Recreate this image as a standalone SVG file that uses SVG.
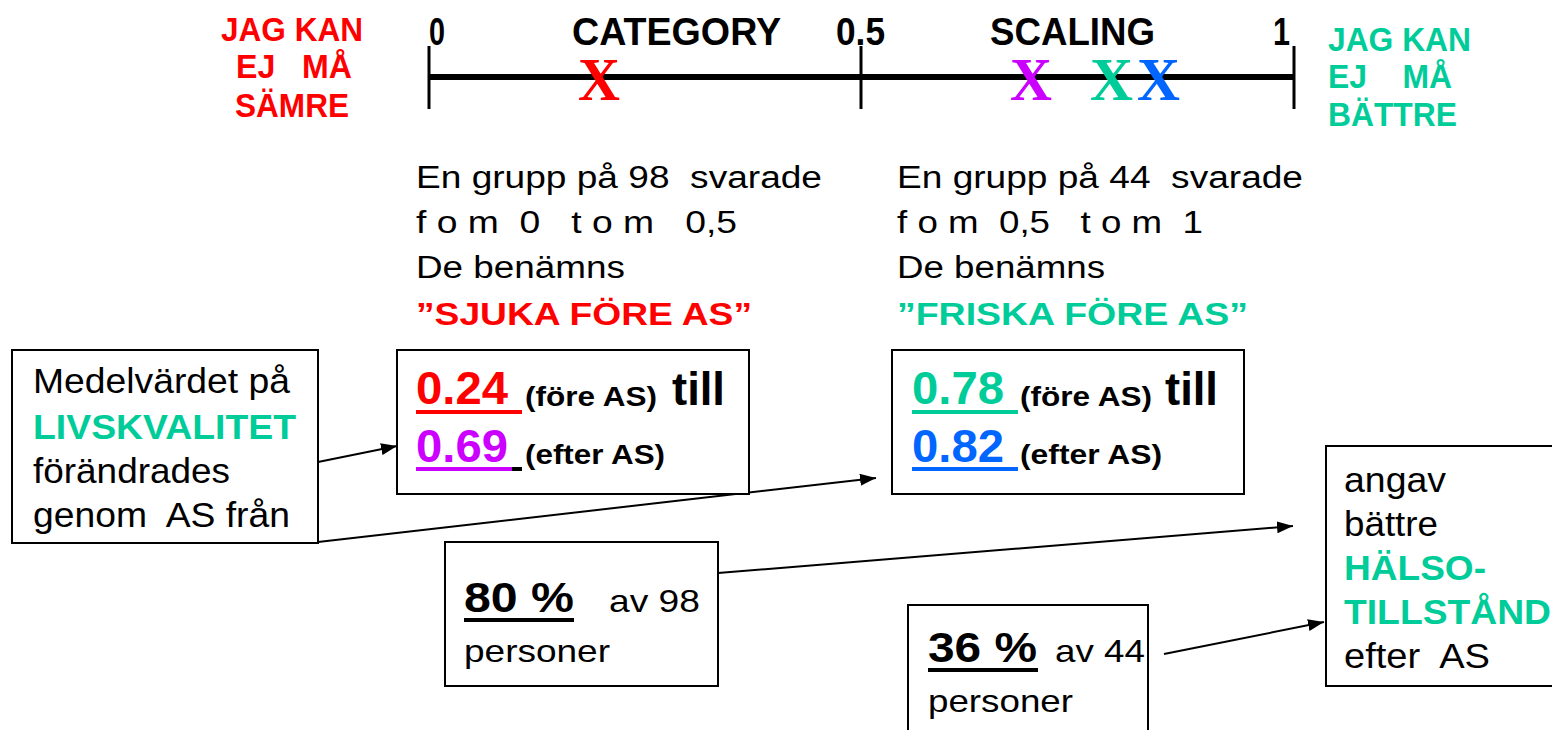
<svg xmlns="http://www.w3.org/2000/svg" width="1552" height="730" viewBox="0 0 1552 730">
<style>
  text { font-family: "Liberation Sans", Arial, sans-serif; }
  .b { font-weight: bold; }
  .x { font-family: "Liberation Serif", "Times New Roman", serif; font-weight: bold; font-size: 62px; }
  .red { fill: #FF0000; }
  .grn { fill: #00CC99; }
  .pur { fill: #CC00FF; }
  .blu { fill: #0066FF; }
  .box { fill: #FFFFFF; stroke: #000000; stroke-width: 2; }
  .con { stroke: #000000; stroke-width: 2; fill: none; }
  .tick { stroke: #000000; stroke-width: 3; }
</style>
<defs>
  <marker id="arr" markerWidth="16" markerHeight="12" refX="16" refY="6" orient="auto" markerUnits="userSpaceOnUse">
    <path d="M0,0 L16,6 L0,12 Z" fill="#000000"/>
  </marker>
</defs>
<rect width="1552" height="730" fill="#FFFFFF"/>

<g id="scale">
  <line x1="429" y1="77" x2="1294" y2="77" stroke="#000000" stroke-width="6"/>
  <line class="tick" x1="429" y1="46" x2="429" y2="109"/>
  <line class="tick" x1="861" y1="46" x2="861" y2="109"/>
  <line class="tick" x1="1294" y1="46" x2="1294" y2="109"/>
  <text class="b" x="429" y="45" font-size="38" textLength="16" lengthAdjust="spacingAndGlyphs">0</text>
  <text class="b" x="572" y="45" font-size="38" textLength="209" lengthAdjust="spacingAndGlyphs">CATEGORY</text>
  <text class="b" x="836" y="45" font-size="38" textLength="49" lengthAdjust="spacingAndGlyphs">0.5</text>
  <text class="b" x="990" y="45" font-size="38" textLength="165" lengthAdjust="spacingAndGlyphs">SCALING</text>
  <text class="b" x="1273" y="45" font-size="38" textLength="17" lengthAdjust="spacingAndGlyphs">1</text>
  <text class="x red" x="578" y="100" textLength="42" lengthAdjust="spacingAndGlyphs">X</text>
  <text class="x pur" x="1010" y="100" textLength="42" lengthAdjust="spacingAndGlyphs">X</text>
  <text class="x grn" x="1090" y="100" textLength="43" lengthAdjust="spacingAndGlyphs">X</text>
  <text class="x blu" x="1137" y="100" textLength="43" lengthAdjust="spacingAndGlyphs">X</text>
</g>

<g id="worse-label">
  <text class="b red" x="221" y="41" font-size="33" textLength="142" lengthAdjust="spacingAndGlyphs">JAG KAN</text>
  <text class="b red" x="236" y="78" font-size="33" textLength="116" lengthAdjust="spacingAndGlyphs" xml:space="preserve">EJ   MÅ</text>
  <text class="b red" x="235" y="117" font-size="33" textLength="114" lengthAdjust="spacingAndGlyphs">SÄMRE</text>
</g>

<g id="better-label">
  <text class="b grn" x="1328" y="51" font-size="33" textLength="143" lengthAdjust="spacingAndGlyphs">JAG KAN</text>
  <text class="b grn" x="1328" y="88" font-size="33" textLength="124" lengthAdjust="spacingAndGlyphs" xml:space="preserve">EJ    MÅ</text>
  <text class="b grn" x="1328" y="126" font-size="33" textLength="129" lengthAdjust="spacingAndGlyphs">BÄTTRE</text>
</g>

<g id="group-sick">
  <text x="416" y="188" font-size="31" textLength="406" lengthAdjust="spacingAndGlyphs" xml:space="preserve">En grupp på 98  svarade</text>
  <text x="416" y="233" font-size="31" textLength="321" lengthAdjust="spacingAndGlyphs" xml:space="preserve">f o m  0   t o m   0,5</text>
  <text x="416" y="278" font-size="31" textLength="209" lengthAdjust="spacingAndGlyphs">De benämns</text>
  <text class="b red" x="416" y="325" font-size="32" textLength="336" lengthAdjust="spacingAndGlyphs">”SJUKA FÖRE AS”</text>
</g>

<g id="group-healthy">
  <text x="897" y="188" font-size="31" textLength="406" lengthAdjust="spacingAndGlyphs" xml:space="preserve">En grupp på 44  svarade</text>
  <text x="897" y="233" font-size="31" textLength="306" lengthAdjust="spacingAndGlyphs" xml:space="preserve">f o m  0,5   t o m  1</text>
  <text x="897" y="278" font-size="31" textLength="208" lengthAdjust="spacingAndGlyphs">De benämns</text>
  <text class="b grn" x="897" y="325" font-size="32" textLength="351" lengthAdjust="spacingAndGlyphs">”FRISKA FÖRE AS”</text>
</g>

<g id="connectors">
  <line class="con" x1="318" y1="462" x2="397" y2="446" marker-end="url(#arr)"/>
  <line class="con" x1="318" y1="542" x2="876" y2="478" marker-end="url(#arr)"/>
  <line class="con" x1="718" y1="573" x2="1293" y2="526" marker-end="url(#arr)"/>
  <line class="con" x1="1164" y1="654" x2="1324" y2="622" marker-end="url(#arr)"/>
</g>

<g id="box-mean">
  <rect class="box" x="12" y="350" width="306" height="193"/>
  <text x="33" y="393" font-size="35" textLength="257" lengthAdjust="spacingAndGlyphs">Medelvärdet på</text>
  <text class="b grn" x="33" y="439" font-size="35" textLength="263" lengthAdjust="spacingAndGlyphs">LIVSKVALITET</text>
  <text x="33" y="483" font-size="35" textLength="197" lengthAdjust="spacingAndGlyphs">förändrades</text>
  <text x="33" y="527" font-size="35" textLength="257" lengthAdjust="spacingAndGlyphs" xml:space="preserve">genom  AS från</text>
</g>

<g id="box-sick-values">
  <rect class="box" x="397" y="350" width="352" height="144"/>
  <text class="b red" x="416" y="404" font-size="46" textLength="92" lengthAdjust="spacingAndGlyphs">0.24</text>
  <rect x="416" y="410" width="106" height="4" fill="#FF0000"/>
  <text class="b" x="525" y="406" font-size="27" textLength="132" lengthAdjust="spacingAndGlyphs">(före AS)</text>
  <text class="b" x="672" y="405" font-size="46" textLength="53" lengthAdjust="spacingAndGlyphs">till</text>
  <text class="b pur" x="416" y="462" font-size="46" textLength="92" lengthAdjust="spacingAndGlyphs">0.69</text>
  <rect x="416" y="467" width="96" height="4" fill="#CC00FF"/>
  <rect x="512" y="467" width="10" height="4" fill="#000000"/>
  <text class="b" x="525" y="464" font-size="27" textLength="140" lengthAdjust="spacingAndGlyphs">(efter AS)</text>
</g>

<g id="box-healthy-values">
  <rect class="box" x="892" y="350" width="352" height="144"/>
  <text class="b grn" x="912" y="404" font-size="46" textLength="92" lengthAdjust="spacingAndGlyphs">0.78</text>
  <rect x="912" y="410" width="106" height="4" fill="#00CC99"/>
  <text class="b" x="1020" y="406" font-size="27" textLength="132" lengthAdjust="spacingAndGlyphs">(före AS)</text>
  <text class="b" x="1165" y="405" font-size="46" textLength="53" lengthAdjust="spacingAndGlyphs">till</text>
  <text class="b blu" x="912" y="462" font-size="46" textLength="92" lengthAdjust="spacingAndGlyphs">0.82</text>
  <rect x="912" y="467" width="106" height="4" fill="#0066FF"/>
  <text class="b" x="1020" y="464" font-size="27" textLength="142" lengthAdjust="spacingAndGlyphs">(efter AS)</text>
</g>

<g id="box-80">
  <rect class="box" x="445" y="542" width="273" height="144"/>
  <text class="b" x="464" y="612" font-size="42" textLength="110" lengthAdjust="spacingAndGlyphs">80 %</text>
  <rect x="464" y="618" width="110" height="4" fill="#000000"/>
  <text x="609" y="612" font-size="32" textLength="91" lengthAdjust="spacingAndGlyphs">av 98</text>
  <text x="464" y="662" font-size="32" textLength="146" lengthAdjust="spacingAndGlyphs">personer</text>
</g>

<g id="box-36">
  <rect class="box" x="908" y="605" width="240" height="140"/>
  <text class="b" x="928" y="662" font-size="42" textLength="109" lengthAdjust="spacingAndGlyphs">36 %</text>
  <rect x="928" y="668" width="110" height="4" fill="#000000"/>
  <text x="1055" y="662" font-size="32" textLength="90" lengthAdjust="spacingAndGlyphs">av 44</text>
  <text x="928" y="712" font-size="32" textLength="145" lengthAdjust="spacingAndGlyphs">personer</text>
</g>

<g id="box-health">
  <rect class="box" x="1326" y="446" width="240" height="240"/>
  <text x="1344" y="492" font-size="35" textLength="102" lengthAdjust="spacingAndGlyphs">angav</text>
  <text x="1344" y="536" font-size="35" textLength="94" lengthAdjust="spacingAndGlyphs">bättre</text>
  <text class="b grn" x="1344" y="580" font-size="35" textLength="142" lengthAdjust="spacingAndGlyphs">HÄLSO-</text>
  <text class="b grn" x="1344" y="624" font-size="35" textLength="207" lengthAdjust="spacingAndGlyphs">TILLSTÅND</text>
  <text x="1344" y="668" font-size="35" textLength="146" lengthAdjust="spacingAndGlyphs" xml:space="preserve">efter  AS</text>
</g>
</svg>
